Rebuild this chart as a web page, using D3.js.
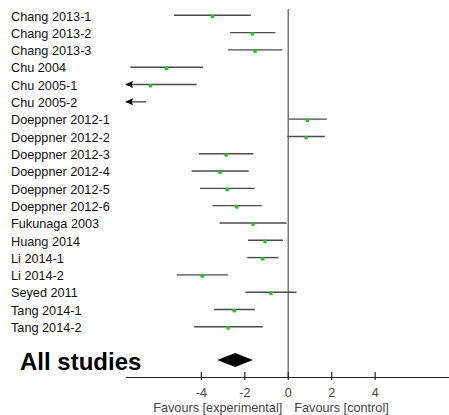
<!DOCTYPE html>
<html>
<head>
<meta charset="utf-8">
<script src="https://d3js.org/d3.v7.min.js"></script>
<style>
  body { margin: 0; background: #fff; }
  text { font-family: "Liberation Sans", Arial, sans-serif; }
</style>
</head>
<body>
<div id="chart"></div>
<script>
// study labels, point estimates and CI bounds
var studies = ["Chang 2013-1","Chang 2013-2","Chang 2013-3","Chu 2004","Chu 2005-1","Chu 2005-2",
  "Doeppner 2012-1","Doeppner 2012-2","Doeppner 2012-3","Doeppner 2012-4","Doeppner 2012-5",
  "Doeppner 2012-6","Fukunaga 2003","Huang 2014","Li 2014-1","Li 2014-2","Seyed 2011",
  "Tang 2014-1","Tang 2014-2"];
var estimate = [-3.49,-1.65,-1.53,-5.6,-6.34,-9.0,0.88,0.82,-2.86,-3.14,-2.81,-2.37,-1.62,-1.07,-1.17,-3.96,-0.8,-2.49,-2.77];
var lower    = [-5.26,-2.68,-2.77,-7.27,-9.5,-11.0,0.02,-0.05,-4.11,-4.45,-4.06,-3.49,-3.16,-1.85,-1.89,-5.13,-1.97,-3.43,-4.33];
var upper    = [-1.72,-0.59,-0.27,-3.93,-4.22,-6.55,1.77,1.68,-1.6,-1.82,-1.55,-1.22,-0.08,-0.24,-0.45,-2.78,0.38,-1.53,-1.17];
var pooled = {est: -2.44, lo: -3.27, hi: -1.63};
var tickVals = [-4, -2, 0, 2, 4];

var W = 449, H = 415;
var svg = d3.select("#chart").append("svg").attr("width", W).attr("height", H);

var x = d3.scaleLinear().domain([-7.47, 7.4]).range([126, 449]);
var y = d3.scalePoint().domain(studies).range([16, 327.5]);
var xmin = x.domain()[0], xmax = x.domain()[1];

svg.append("defs").append("marker")
  .attr("id", "arr").attr("viewBox", "0 0 10 10").attr("refX", 9).attr("refY", 5)
  .attr("markerWidth", 8).attr("markerHeight", 8).attr("markerUnits", "userSpaceOnUse")
  .attr("orient", "auto-start-reverse")
  .append("path").attr("d", "M10,5L0,0.5L2,5L0,9.5Z").attr("fill", "#000");

// labels
svg.append("g").selectAll("text").data(studies).enter().append("text")
  .attr("x", 11).attr("y", function(d) { return y(d); }).attr("dy", "0.36em")
  .attr("font-size", "12.7px").attr("fill", "#111").text(function(d) { return d; });

// zero line
svg.append("line").attr("x1", x(0)).attr("x2", x(0)).attr("y1", 9).attr("y2", 377)
  .attr("stroke", "#777").attr("stroke-width", 1.5);

// CI lines
var rows = svg.append("g").selectAll("g").data(studies).enter().append("g");
rows.append("line")
  .attr("x1", function(d, i) { return x(Math.max(lower[i], xmin)); })
  .attr("x2", function(d, i) { return x(Math.min(upper[i], xmax)); })
  .attr("y1", function(d) { return y(d) - 0.7; })
  .attr("y2", function(d) { return y(d) - 0.7; })
  .attr("stroke", "#4a4a4a").attr("stroke-width", 1.4)
  .attr("marker-start", function(d, i) { return lower[i] < xmin ? "url(#arr)" : null; });
rows.filter(function(d, i) { return estimate[i] >= xmin; })
  .append("rect")
  .attr("x", function(d) { var i = studies.indexOf(d); return x(estimate[i]) - 1.7; })
  .attr("y", function(d) { return y(d) - 1.2; })
  .attr("width", 3.4).attr("height", 3.4).attr("fill", "#11cc11");

// pooled diamond
var dy = 360;
svg.append("path")
  .attr("d", "M" + x(pooled.lo) + "," + dy + "L" + x(pooled.est) + "," + (dy - 7) +
    "L" + x(pooled.hi) + "," + dy + "L" + x(pooled.est) + "," + (dy + 7) + "Z")
  .attr("fill", "#000");
svg.append("text").attr("x", 20).attr("y", 370).attr("font-size", "24px")
  .attr("font-weight", "bold").attr("fill", "#000").text("All studies");

// axis
var axis = svg.append("g");
axis.append("line").attr("x1", x(xmin)).attr("x2", W).attr("y1", 377.5).attr("y2", 377.5)
  .attr("stroke", "#222").attr("stroke-width", 1.2);
axis.selectAll(".tk").data(tickVals).enter().append("line")
  .attr("x1", function(d) { return x(d); }).attr("x2", function(d) { return x(d); })
  .attr("y1", 372).attr("y2", 380).attr("stroke", "#222").attr("stroke-width", 1.2);
axis.selectAll(".tl").data(tickVals).enter().append("text")
  .attr("x", function(d) { return x(d); }).attr("y", 392).attr("dy", "0.36em")
  .attr("text-anchor", "middle").attr("font-size", "12.5px").attr("fill", "#444")
  .text(function(d) { return d; });
svg.append("text").attr("x", x(0) - 6).attr("y", 407.5).attr("dy", "0.36em")
  .attr("text-anchor", "end").attr("font-size", "12.7px").attr("fill", "#444")
  .text("Favours [experimental]");
svg.append("text").attr("x", x(0) + 6).attr("y", 407.5).attr("dy", "0.36em")
  .attr("text-anchor", "start").attr("font-size", "12.7px").attr("fill", "#444")
  .text("Favours [control]");
</script>
</body>
</html>
